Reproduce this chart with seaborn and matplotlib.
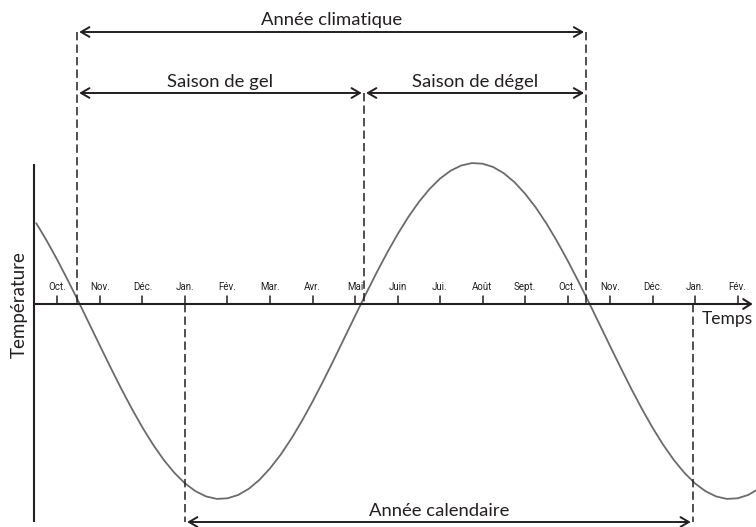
import matplotlib
matplotlib.use("Agg")
import matplotlib.pyplot as plt
import seaborn as sns
import pandas as pd

# ---------------- data ----------------
# temperature curve, every quarter month
# (x in months, Jan. of the first year = 0)
curve_month = [-3.5 + 0.25 * k for k in range(69)]
curve_temp = [
    8.08, 6.30, 4.37, 2.32, 0.19, -2.00, -4.19, -6.36, -8.47, -10.48,
    -12.36, -14.07, -15.59, -16.88, -17.94, -18.73, -19.25, -19.49, -19.43, -19.10,
    -18.48, -17.59, -16.44, -15.07, -13.48, -11.70, -9.77, -7.72, -5.59, -3.40,
    -1.21, 0.96, 3.07, 5.08, 6.96, 8.67, 10.19, 11.48, 12.54, 13.33,
    13.85, 14.09, 14.03, 13.70, 13.08, 12.19, 11.04, 9.67, 8.08, 6.30,
    4.37, 2.32, 0.19, -2.00, -4.19, -6.36, -8.47, -10.48, -12.36, -14.07,
    -15.59, -16.88, -17.94, -18.73, -19.25, -19.49, -19.43, -19.10, -18.48,
]

tick_months = list(range(-3, 14))
tick_labels = ["Oct.", "Nov.", "Déc.", "Jan.", "Fév.", "Mar.", "Avr.", "Mai",
               "Juin", "Jui.", "Août", "Sept.", "Oct.", "Nov.", "Déc.", "Jan.", "Fév."]

# season boundaries (months)
gel_start = -2.54
degel_start = 4.21
climat_end = 9.44
cal_start = 0.0
cal_end = 11.95

# ---------------- style ----------------
sns.set_theme(style="white")
plt.rcParams["font.family"] = ["Lato", "DejaVu Sans"]
plt.rcParams["lines.scale_dashes"] = False

DARK = "#231f20"
GREY = "#6b6b6b"

fig = plt.figure(figsize=(7.56, 5.27), dpi=100)
ax = fig.add_axes([0, 0, 1, 1])
ax.set_xlim(-185 / 42.5, 571 / 42.5)
ax.set_ylim(-22.3, 30.4)
ax.axis("off")

df = pd.DataFrame({"mois": curve_month, "temp": curve_temp})
sns.lineplot(data=df, x="mois", y="temp", ax=ax, color=GREY, lw=1.3,
             sort=False, estimator=None)

x_left = -3.553
x_right = 13.36

# axes
ax.plot([x_left, x_left], [14.0, -21.8], color=DARK, lw=1.5, solid_capstyle="butt")
ax.annotate("", xy=(x_right, 0), xytext=(x_left, 0),
            arrowprops=dict(arrowstyle="->,head_length=0.55,head_width=0.35",
                            lw=1.5, color=DARK, shrinkA=0, shrinkB=0,
                            mutation_scale=10))

# ticks and month labels
for m, lab in zip(tick_months, tick_labels):
    ax.plot([m, m], [0, 0.8], color=DARK, lw=1.1)
    ax.text(m, 1.7, lab, ha="center", va="center", fontsize=7,
            family=["Roboto", "DejaVu Sans"], color=DARK)

# dashed boundaries
dash = (0, (6.0, 3.0))
y_top = 27.2
y_mid = 21.1
y_bot = -21.8
for xb, yb in [(gel_start, y_top), (climat_end, y_top), (degel_start, y_mid)]:
    ax.plot([xb, xb], [yb, 0], color=DARK, lw=1.1, linestyle=dash)
for xb in [cal_start, cal_end]:
    ax.plot([xb, xb], [0, y_bot], color=DARK, lw=1.1, linestyle=dash)

# double arrows
def double_arrow(x0, x1, y):
    ax.annotate("", xy=(x1, y), xytext=(x0, y),
                arrowprops=dict(arrowstyle="<->,head_length=0.6,head_width=0.35",
                                lw=1.4, color=DARK, shrinkA=0, shrinkB=0,
                                mutation_scale=10))

eps = 0.05
double_arrow(gel_start + eps, climat_end - eps, y_top)
double_arrow(gel_start + eps, degel_start - eps, y_mid)
double_arrow(degel_start + eps, climat_end - eps, y_mid)
double_arrow(cal_start + eps, cal_end - eps, y_bot)

fs = 13.3
ax.text((gel_start + climat_end) / 2, y_top + 0.35, "Année climatique", ha="center",
        va="bottom", fontsize=fs, color=DARK)
ax.text((gel_start + degel_start) / 2, y_mid + 0.35, "Saison de gel", ha="center",
        va="bottom", fontsize=fs, color=DARK)
ax.text((degel_start + climat_end) / 2, y_mid + 0.35, "Saison de dégel", ha="center",
        va="bottom", fontsize=fs, color=DARK)
ax.text((cal_start + cal_end) / 2, y_bot + 0.35, "Année calendaire", ha="center",
        va="bottom", fontsize=fs, color=DARK)

ax.text(12.75, -1.5, "Temps", ha="center", va="center", fontsize=12.5, color=DARK)
ax.text(-3.906, -0.1, "Température", ha="center", va="center", fontsize=13.5,
        rotation=90, color=DARK)

fig.savefig("out.png", dpi=100)
